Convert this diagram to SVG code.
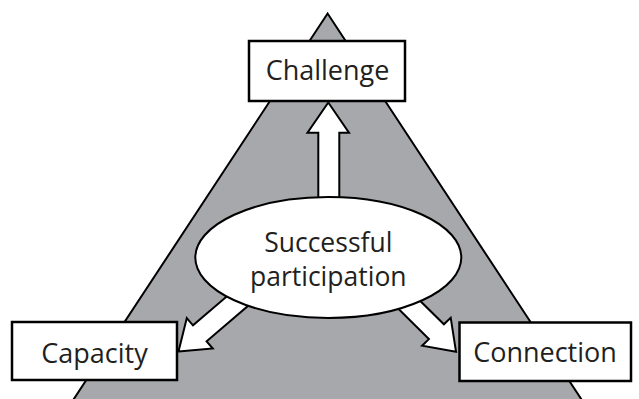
<svg xmlns="http://www.w3.org/2000/svg" width="639" height="399" viewBox="0 0 639 399">
<style>
.tri{fill:#a7a8ab;stroke:#000;stroke-width:2}
.box{fill:#fff;stroke:#000;stroke-width:2.5}
.arr{fill:#fff;stroke:#000;stroke-width:2;stroke-linejoin:miter}
.ell{fill:#fff;stroke:#000;stroke-width:2}
.lbl{font-family:"Open Sans","Noto Sans",sans-serif;font-size:27px;fill:#231f20;text-anchor:middle}
.mid{font-size:26.5px}
</style>
<rect width="639" height="399" fill="#fff"/>
<polygon class="tri" points="327.6,13.5 60,420 595,420"/>
<g id="connectors">
<polygon class="arr" points="328.3,102.5 349,132.7 339.3,132.7 339.3,205 318.3,205 318.3,132.7 307.5,132.7"/>
<polygon class="arr" points="178.5,351.5 212.8,348.5 206.6,341.3 252.2,302.3 238.6,286.3 193,325.3 186.8,318.1"/>
<polygon class="arr" points="456,351.7 450.7,317.7 443.9,324.3 402,283 387,297.5 428.9,339.1 422.1,345.7"/>
</g>
<g id="center">
<ellipse class="ell" cx="328.3" cy="257.5" rx="133" ry="60.5"/>
<text class="lbl mid" x="328.3" y="252">Successful</text>
<text class="lbl mid" x="328.3" y="285.5">participation</text>
</g>
<g id="challenge">
<rect class="box" x="249" y="41" width="156" height="60"/>
<text class="lbl" x="327.5" y="80">Challenge</text>
</g>
<g id="capacity">
<rect class="box" x="12" y="322" width="165" height="58"/>
<text class="lbl" x="94.5" y="363">Capacity</text>
</g>
<g id="connection">
<rect class="box" x="459.5" y="322.5" width="171.5" height="58.5"/>
<text class="lbl" x="545" y="362">Connection</text>
</g>
</svg>
